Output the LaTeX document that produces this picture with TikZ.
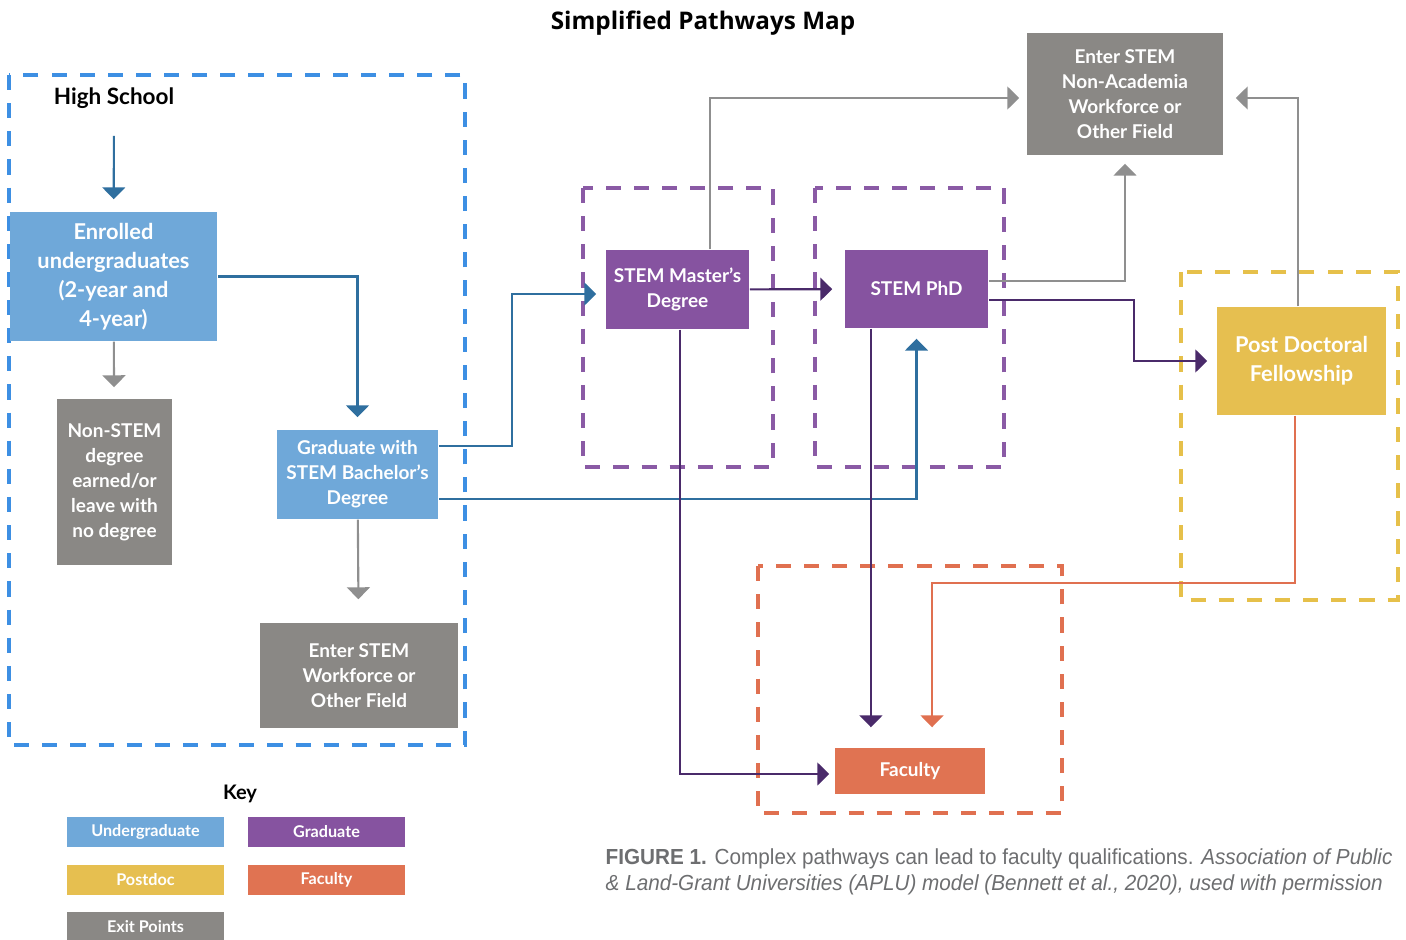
\documentclass[tikz,border=0pt]{standalone}
\usepackage{fontspec}
\setmainfont{Lato}
\newfontfamily\titlefont{Open Sans}
\newfontfamily\capfont[FakeStretch=0.95]{Liberation Sans}
\usetikzlibrary{arrows.meta,positioning,calc}

\definecolor{hsblue}{HTML}{3D8FE3}
\definecolor{ugfill}{HTML}{6FA8D9}
\definecolor{ugline}{HTML}{2F6F9F}
\definecolor{exfill}{HTML}{8A8885}
\definecolor{exline}{HTML}{8F8F8F}
\definecolor{grfill}{HTML}{8653A0}
\definecolor{grline}{HTML}{4A2A6A}
\definecolor{grdash}{HTML}{8A5AA5}
\definecolor{pdfill}{HTML}{E6BF50}
\definecolor{pddash}{HTML}{E6C04A}
\definecolor{facfill}{HTML}{E07352}
\definecolor{facline}{HTML}{E07050}
\definecolor{capgray}{HTML}{6D6E70}

\tikzset{
  box/.style={rectangle, inner sep=0pt, align=center, text=white,
    font=\bfseries\fontsize{5.4}{7.1}\selectfont},
  bigbox/.style={box, font=\bfseries\fontsize{6.2}{8.2}\selectfont},
  keybox/.style={box, minimum width=1.57cm, minimum height=0.3cm,
    font=\bfseries\fontsize{4.6}{5.5}\selectfont},
  conn/.style={line width=0.6pt, -{Triangle[width=6.5pt,length=3.4pt]}},
  grp/.style={line width=0.9pt, dash pattern=on 4.3pt off 3.7pt},
}

\begin{document}
\begin{tikzpicture}[x=0.01cm, y=-0.01cm]
  \useasboundingbox (0,0) rectangle (1406,940);

  \node [font=\titlefont\bfseries\fontsize{6.9}{8}\selectfont] (title) at (703,23) {Simplified Pathways Map};

  % group frames
  \draw [grp, hsblue] (9,75) rectangle (465,745);
  \draw [grp, grdash] (583,188) rectangle (773,467);
  \draw [grp, grdash] (815,188) rectangle (1004,467);
  \draw [grp, pddash] (1181,272) rectangle (1398,600);
  \draw [grp, facline] (758,566) rectangle (1062,813);

  % steps
  \node [font=\bfseries\fontsize{6.4}{7.5}\selectfont] (hs) at (114,98) {High School};
  \node [bigbox, fill=ugfill, minimum width=2.07cm, minimum height=1.29cm] (enr) at (113.5,276.5)
    {Enrolled\\undergraduates\\(2-year and\\4-year)};
  \node [box, fill=exfill, minimum width=1.15cm, minimum height=1.66cm] (nonstem) at (114.5,482)
    {Non-STEM\\degree\\earned/or\\leave with\\no degree};
  \node [box, fill=ugfill, minimum width=1.61cm, minimum height=0.89cm] (bach) at (357.5,474.5)
    {Graduate with\\STEM Bachelor's\\Degree};
  \node [box, fill=exfill, minimum width=1.98cm, minimum height=1.05cm] (work) at (359,675.5)
    {Enter STEM\\Workforce or\\Other Field};
  \node [box, fill=grfill, minimum width=1.43cm, minimum height=0.79cm] (mast) at (677.5,289.5)
    {STEM Master's\\Degree};
  \node [box, fill=grfill, minimum width=1.43cm, minimum height=0.78cm] (phd) at (916.5,289)
    {STEM PhD};
  \node [box, fill=exfill, minimum width=1.96cm, minimum height=1.22cm] (exit) at (1125,94)
    {Enter STEM\\Non-Academia\\Workforce or\\Other Field};
  \node [bigbox, fill=pdfill, minimum width=1.69cm, minimum height=1.08cm] (pd) at (1301.5,361)
    {Post Doctoral\\Fellowship};
  \node [box, fill=facfill, minimum width=1.5cm, minimum height=0.46cm] (fac) at (910,771)
    {Faculty};

  % pathways
  \draw [conn, ugline, shorten <=0.15cm, shorten >=0.12cm] (hs) -- (enr);
  \draw [conn, exline, shorten >=0.11cm] (enr) -- (nonstem);
  \draw [conn, ugline, shorten >=0.12cm] (enr.east) -| (bach.north);
  \draw [conn, exline, shorten >=0.23cm] (bach) -- (work);
  \draw [conn, ugline, shorten >=0.09cm] ([yshift=0.285cm]bach.east) -- ++(73,0) |- ([yshift=-0.045cm]mast.west);
  \draw [conn, ugline, shorten >=0.1cm] ([yshift=-0.245cm]bach.east) -| (phd.south);
  \draw [conn, grline, shorten >=0.12cm] (mast) -- (phd);
  \draw [conn, exline, shorten >=0.07cm] ([xshift=0.325cm]mast.north) |- ([yshift=-0.04cm]exit.west);
  \draw [conn, exline, shorten >=0.08cm] ([yshift=0.08cm]phd.east) -| (exit.south);
  \draw [conn, grline, shorten >=0.09cm] ([yshift=-0.11cm]phd.east) -- ++(145,0) |- (pd.west);
  \draw [conn, exline, shorten >=0.12cm] ([xshift=-0.035cm]pd.north) |- ([yshift=-0.04cm]exit.east);
  \draw [conn, facline, shorten >=0.2cm] ([xshift=-0.065cm]pd.south) -- ++(0,167) -| ([xshift=0.22cm]fac.north);
  \draw [conn, grline, shorten >=0.05cm] ([xshift=0.025cm]mast.south) |- ([yshift=-0.03cm]fac.west);
  \draw [conn, grline, shorten >=0.2cm] ([xshift=-0.455cm]phd.south) -- ([xshift=-0.455cm]phd.south |- fac.north);

  % key
  \node [font=\bfseries\fontsize{5.7}{7}\selectfont] (key) at (240,794) {Key};
  \node [keybox, fill=ugfill] (kug) at (145.5,832) {Undergraduate};
  \node [keybox, fill=grfill] (kgr) at (326.5,832) {Graduate};
  \node [keybox, fill=pdfill] (kpd) at (145.5,880) {Postdoc};
  \node [keybox, fill=facfill] (kfac) at (326.5,880) {Faculty};
  \node [keybox, fill=exfill] (kex) at (145.5,927) {Exit Points};

  % caption
  \node [anchor=north west, inner sep=0pt, align=left, text=capgray,
    font=\capfont\fontsize{6.2}{7.4}\selectfont] (cap) at (605,848)
    {\textbf{FIGURE 1.} Complex pathways can lead to faculty qualifications. \textit{Association of Public}\\
     \textit{\& Land-Grant Universities (APLU) model (Bennett et al., 2020), used with permission}};
\end{tikzpicture}
\end{document}
